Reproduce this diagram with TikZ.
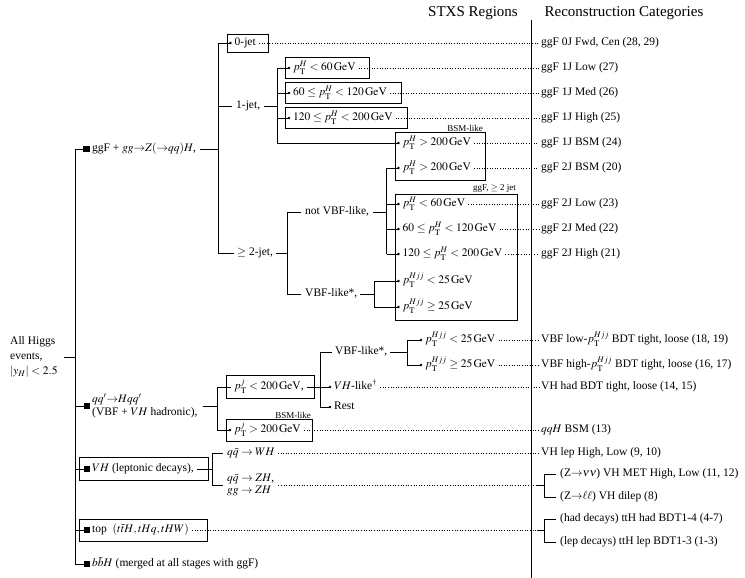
\documentclass[tikz,border=0pt]{standalone}
\usepackage{mathptmx}
\usepackage[no-math]{fontspec}
\setmainfont{Liberation Serif}
\newcommand\ptx[1]{p_{\mathrm{T}}^{#1}}
\newcommand\gev{\,\mathrm{GeV}}
\tikzset{
  lbl/.style={anchor=west, inner sep=0pt, font=\fontsize{11.5}{13}\selectfont, text height=8pt, text depth=2.5pt},
  lbltwo/.style={anchor=west, inner sep=0pt, align=left, font=\fontsize{11.5}{12.8}\selectfont},
  lblthree/.style={anchor=west, inner sep=0pt, align=left, font=\fontsize{11.5}{15}\selectfont},
  hd/.style={inner sep=0pt, font=\fontsize{15}{18}\selectfont},
  sml/.style={anchor=south east, inner sep=0pt, font=\fontsize{9}{10}\selectfont},
  ln/.style={line width=0.7pt},
  bx/.style={draw, line width=0.7pt},
  dl/.style={line width=0.8pt, dash pattern=on 0.9pt off 1.7pt},
  sepline/.style={line width=0.8pt},
  sq/.style={fill, minimum size=6.5pt, inner sep=0pt}
}
\newcommand\mkleaf[4]{\coordinate (#1d) at (#2,#3); \fill (#1d) circle (1.4pt); \node[lbl,xshift=4pt] (#1) at (#1d) {#4};}
\begin{document}
\begin{tikzpicture}[x=1pt,y=-1pt]
\useasboundingbox (0,0) rectangle (745,578);
% headings and separator
\node[hd] (h1) at (473,13) {STXS Regions};
\node[hd] (h2) at (624,13) {Reconstruction Categories};
\coordinate (septop) at (531.5,20); \coordinate (sepbot) at (531.5,578);
\draw[sepline] (septop) -- (sepbot);
% right column
\node[lbl] (r1) at (541,43) {ggF 0J Fwd, Cen (28, 29)};
\node[lbl] (r2) at (541,68) {ggF 1J Low (27)};
\node[lbl] (r3) at (541,93) {ggF 1J Med (26)};
\node[lbl] (r4) at (541,118) {ggF 1J High (25)};
\node[lbl] (r5) at (541,143) {ggF 1J BSM (24)};
\node[lbl] (r6) at (541,168) {ggF 2J BSM (20)};
\node[lbl] (r7) at (541,204) {ggF 2J Low (23)};
\node[lbl] (r8) at (541,229) {ggF 2J Med (22)};
\node[lbl] (r9) at (541,254) {ggF 2J High (21)};
\node[lbl] (r10) at (541,340) {VBF low-$\ptx{Hjj}$ BDT tight, loose (18, 19)};
\node[lbl] (r11) at (541,365) {VBF high-$\ptx{Hjj}$ BDT tight, loose (16, 17)};
\node[lbl] (r12) at (541,387) {VH had BDT tight, loose (14, 15)};
\node[lbl] (r13) at (541,430) {$qqH$ BSM (13)};
\node[lbl] (r14) at (541,453) {VH lep High, Low (9, 10)};
\node[lbl] (r15) at (560,474) {(Z${\to}\nu\nu$) VH MET High, Low (11, 12)};
\node[lbl] (r16) at (560,497) {(Z${\to}\ell\ell$) VH dilep (8)};
\node[lbl] (r17) at (560,519) {(had decays) ttH had BDT1-4 (4-7)};
\node[lbl] (r18) at (560,542) {(lep decays) ttH lep BDT1-3 (1-3)};
% root
\node[lblthree] (allh) at (10,357) {All Higgs\\events,\\$|y_H| < 2.5$};
\coordinate (mtop) at (75,149); \coordinate (mbot) at (75,564); \coordinate (mj) at (75,357);
\draw[ln] (mtop) -- (mbot);
\draw[ln] ([xshift=6pt]allh.east) -- (mj);
% ggF
\node[sq] (sq1) at (86.5,149) {};
\draw[ln] (mtop) -- (sq1);
\node[lbl] (ggf) at (92,149) {ggF + $gg{\to}Z({\to}qq)H$,};
\coordinate (gv) at (218,149); \coordinate (gvt) at (218,43); \coordinate (gvb) at (218,253);
\draw[ln] ([xshift=4pt]ggf.east) -- (gv);
\draw[ln] (gvt) -- (gvb);
% 0-jet
\draw[bx] (227,34.5) rectangle (268,52.5);
\mkleaf{z0}{230.5}{43}{0-jet}
\draw[ln] (gvt) -- (z0d);
\draw[dl] ([xshift=3pt]z0.east) -- ([xshift=-2pt]r1.west);
% 1-jet
\node[lbl] (j1) at (236,106) {1-jet,};
\draw[ln] (gv |- j1.west) -- ([xshift=-4pt]j1.west);
\coordinate (j1v) at (277,106); \coordinate (j1vt) at (277,68); \coordinate (j1vb) at (277,143);
\draw[ln] ([xshift=4pt]j1.east) -- (j1v);
\draw[ln] (j1vt) -- (j1vb);
\draw[bx] (285.5,57.5) rectangle (369,78.5);
\draw[bx] (285.5,82.5) rectangle (401,103.5);
\draw[bx] (285.5,107.5) rectangle (407,128.5);
\mkleaf{a1}{289}{68}{$\ptx{H} < 60\gev$}
\mkleaf{a2}{289}{93}{$60 \leq \ptx{H} < 120\gev$}
\mkleaf{a3}{289}{118}{$120 \leq \ptx{H} < 200\gev$}
\draw[ln] (j1v |- a1d) -- (a1d);
\draw[ln] (j1v |- a2d) -- (a2d);
\draw[ln] (j1v |- a3d) -- (a3d);
\draw[dl] ([xshift=3pt]a1.east) -- ([xshift=-2pt]r2.west);
\draw[dl] ([xshift=3pt]a2.east) -- ([xshift=-2pt]r3.west);
\draw[dl] ([xshift=3pt]a3.east) -- ([xshift=-2pt]r4.west);
% BSM-like box (ggF)
\draw[bx] (395,132.5) rectangle (485,180);
\node[sml] (bsma) at (483,131.5) {BSM-like};
\mkleaf{b1}{398.5}{143}{$\ptx{H} > 200\gev$}
\mkleaf{b2}{398.5}{168}{$\ptx{H} > 200\gev$}
\draw[ln] (j1vb) -- (b1d);
\draw[dl] ([xshift=3pt]b1.east) -- ([xshift=-2pt]r5.west);
\draw[dl] ([xshift=3pt]b2.east) -- ([xshift=-2pt]r6.west);
% >= 2-jet
\node[lbl] (j2) at (237,253) {$\geq$ 2-jet,};
\draw[ln] (gvb) -- ([xshift=-3pt]j2.west);
\coordinate (j2v) at (287,253); \coordinate (j2vt) at (287,212); \coordinate (j2vb) at (287,294);
\draw[ln] ([xshift=3pt]j2.east) -- (j2v);
\draw[ln] (j2vt) -- (j2vb);
\node[lbl] (nv) at (305,212) {not VBF-like,};
\draw[ln] (j2vt) -- ([xshift=-4pt]nv.west);
\coordinate (nvv) at (386.7,212); \coordinate (nvvt) at (386.7,168); \coordinate (nvvb) at (386.7,254);
\draw[ln] ([xshift=4pt]nv.east) -- (nvv);
\draw[ln] (nvvt) -- (nvvb);
\node[lbl] (vl) at (305,294) {VBF-like*,};
\draw[ln] (j2vb) -- ([xshift=-4pt]vl.west);
\coordinate (vlv) at (374,294); \coordinate (vlvt) at (374,281); \coordinate (vlvb) at (374,307);
\draw[ln] ([xshift=3pt]vl.east) -- (vlv);
\draw[ln] (vlvt) -- (vlvb);
\draw[bx] (395,194) rectangle (517.5,320);
\node[sml] (g2) at (516,193) {ggF, $\geq$ 2 jet};
\mkleaf{c1}{398.5}{204}{$\ptx{H} < 60\gev$}
\mkleaf{c2}{398.5}{229}{$60 \leq \ptx{H} < 120\gev$}
\mkleaf{c3}{398.5}{254}{$120 \leq \ptx{H} < 200\gev$}
\mkleaf{c4}{398.5}{281}{$\ptx{Hjj} < 25\gev$}
\mkleaf{c5}{398.5}{307}{$\ptx{Hjj} \geq 25\gev$}
\draw[ln] (nvv |- b2d) -- (b2d);
\draw[ln] (nvv |- c1d) -- (c1d);
\draw[ln] (nvv |- c2d) -- (c2d);
\draw[ln] (nvv |- c3d) -- (c3d);
\draw[ln] (vlv |- c4d) -- (c4d);
\draw[ln] (vlv |- c5d) -- (c5d);
\draw[dl] ([xshift=3pt]c1.east) -- ([xshift=-2pt]r7.west);
\draw[dl] ([xshift=3pt]c2.east) -- ([xshift=-2pt]r8.west);
\draw[dl] ([xshift=3pt]c3.east) -- ([xshift=-2pt]r9.west);
% qq' -> Hqq'
\node[sq] (sq2) at (87,406) {};
\coordinate (mq) at (75,406);
\draw[ln] (mq) -- (sq2);
\node[lbltwo] (qq) at (92,406) {$qq'{\to}Hqq'$\\(VBF + $VH$ hadronic),};
\coordinate (qv) at (217,406); \coordinate (qvt) at (217,387); \coordinate (qvb) at (217,430);
\draw[ln] ([xshift=5pt]qq.east) -- (qv);
\draw[ln] (qvt) -- (qvb);
\draw[bx] (226.5,375.5) rectangle (314,398.5);
\node[lbl] (pj1) at (234,387) {$p_{\mathrm{T}}^{j} < 200\gev$,};
\draw[ln] (qvt) -- ([xshift=-3pt]pj1.west);
\coordinate (pjv) at (320,387); \coordinate (pjvt) at (320,352); \coordinate (pjvb) at (320,407);
\draw[ln] ([xshift=3pt]pj1.east) -- (pjv);
\draw[ln] (pjvt) -- (pjvb);
\node[lbl] (vl2) at (335,352) {VBF-like*,};
\draw[ln] (pjvt) -- ([xshift=-3pt]vl2.west);
\coordinate (vlw) at (407,352); \coordinate (vlwt) at (407,340); \coordinate (vlwb) at (407,365);
\draw[ln] ([xshift=3pt]vl2.east) -- (vlw);
\draw[ln] (vlwt) -- (vlwb);
\mkleaf{d1}{421}{340}{$\ptx{Hjj} < 25\gev$}
\mkleaf{d2}{421}{365}{$\ptx{Hjj} \geq 25\gev$}
\draw[ln] (vlwt) -- (d1d);
\draw[ln] (vlwb) -- (d2d);
\mkleaf{d3}{330}{387}{$VH$-like$^{\dagger}$}
\mkleaf{d4}{330}{407}{Rest}
\draw[ln] (pjv) -- (d3d);
\draw[ln] (pjvb) -- (d4d);
\draw[dl] ([xshift=3pt]d1.east) -- ([xshift=-2pt]r10.west);
\draw[dl] ([xshift=3pt]d2.east) -- ([xshift=-2pt]r11.west);
\draw[dl] ([xshift=3pt]d3.east) -- ([xshift=-2pt]r12.west);
\draw[bx] (226.5,419.5) rectangle (312,441.5);
\node[sml] (bsmb) at (311,418.5) {BSM-like};
\mkleaf{e1}{230}{430}{$p_{\mathrm{T}}^{j} > 200\gev$}
\draw[ln] (qvb) -- (e1d);
\draw[dl] ([xshift=3pt]e1.east) -- ([xshift=-2pt]r13.west);
% VH leptonic
\draw[bx] (79,457.5) rectangle (208,480.5);
\node[sq] (sq3) at (87,469) {};
\coordinate (mv) at (75,469);
\draw[ln] (mv) -- (sq3);
\node[lbl] (vhl) at (92,469) {$VH$ (leptonic decays),};
\coordinate (vhv) at (212,469); \coordinate (vhvt) at (212,453); \coordinate (vhvb) at (212,485);
\draw[ln] ([xshift=3pt]vhl.east) -- (vhv);
\draw[ln] (vhvt) -- (vhvb);
\node[lbl] (wh) at (227,453) {$q\bar{q} \to WH$};
\draw[ln] (vhvt) -- ([xshift=-4pt]wh.west);
\node[lbltwo] (zh) at (227,485) {$q\bar{q} \to ZH$,\\$gg \to ZH$};
\draw[ln] (vhvb) -- ([xshift=-4pt]zh.west);
\draw[dl] ([xshift=3pt]wh.east) -- ([xshift=-2pt]r14.west);
\coordinate (zbin) at (537,485); \coordinate (zb) at (544,485);
\draw[dl] ([xshift=4pt]zh.east) -- (zbin);
\draw[ln] (zbin) -- (zb);
\draw[ln] (zb |- r15.west) -- (zb |- r16.west);
\draw[ln] (zb |- r15.west) -- ([xshift=-4pt]r15.west);
\draw[ln] (zb |- r16.west) -- ([xshift=-4pt]r16.west);
% top
\draw[bx] (79,519) rectangle (207.5,541);
\node[sq] (sq4) at (87,530) {};
\coordinate (mt) at (75,530);
\draw[ln] (mt) -- (sq4);
\node[lbl] (tp) at (92,530) {top~~$(t\bar{t}H, tHq, tHW)$};
\coordinate (tbin) at (537,530); \coordinate (tb) at (544,530);
\draw[dl] ([xshift=3pt]tp.east) -- (tbin);
\draw[ln] (tbin) -- (tb);
\draw[ln] (tb |- r17.west) -- (tb |- r18.west);
\draw[ln] (tb |- r17.west) -- ([xshift=-4pt]r17.west);
\draw[ln] (tb |- r18.west) -- ([xshift=-4pt]r18.west);
% bbH
\node[sq] (sq5) at (87,564) {};
\draw[ln] (mbot) -- (sq5);
\node[lbl] (bbh) at (92,564) {$b\bar{b}H$ (merged at all stages with ggF)};
\end{tikzpicture}
\end{document}
